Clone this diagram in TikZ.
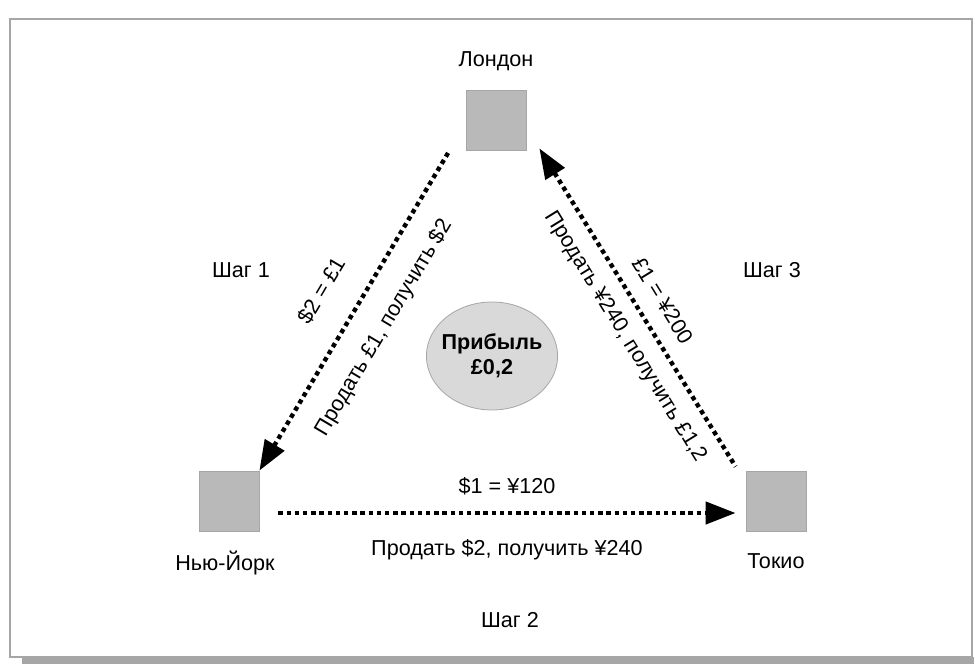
\documentclass[tikz,border=0pt]{standalone}
\usepackage{fontspec}
\setmainfont{Liberation Sans}
\usetikzlibrary{positioning,arrows.meta,shapes.geometric}

\begin{document}
\begin{tikzpicture}[x=0.5pt,y=-0.5pt,
  >={Triangle[length=15pt,width=11pt]},
  city/.style={draw=gray!70,fill=gray!55,minimum size=30pt,inner sep=0pt},
  trade/.style={line width=2.2pt,dash pattern=on 2.2pt off 1.9pt},
  lbl/.style={font=\fontsize{10.8}{12.5}\selectfont}]

\useasboundingbox (0,0) rectangle (974,664);
\draw[gray!70,line width=1pt] (10,19) rectangle (972,657);
\fill[gray!70] (22,657) rectangle (974,664);

\node[city] (london) at (496,120) {};
\node[city] (newyork) at (229,501) {};
\node[city] (tokyo) at (776,501) {};

\node[lbl,above=6pt of london] (londonlbl) {Лондон};
\node[lbl,below=6.5pt of newyork,xshift=-2pt] (newyorklbl) {Нью-Йорк};
\node[lbl,below=7.5pt of tokyo] (tokyolbl) {Токио};

\node[lbl] (step1) at (241,270) {Шаг 1};
\node[lbl] (step2) at (510,620) {Шаг 2};
\node[lbl] (step3) at (772,270) {Шаг 3};

\node[ellipse,draw=gray!70,fill=gray!30,minimum width=65pt,minimum height=54pt,inner sep=-2pt,
  align=center,font=\fontsize{10.8}{12.5}\selectfont\bfseries] (profit) at (492,356) {Прибыль\\£0,2};

\draw[trade,<-] (newyork.north east) -- ([xshift=-8pt]london.south west)
  node[lbl,midway,sloped,above=10.5pt] {\$2 = £1}
  node[lbl,midway,sloped,below=7.5pt] {Продать £1, получить \$2};

\draw[trade,->] ([xshift=9.5pt,yshift=-6pt]newyork.east) -- ([xshift=-5pt,yshift=-6pt]tokyo.west)
  node[lbl,midway,above=4.5pt] {\$1 = ¥120}
  node[lbl,midway,below=9pt] {Продать \$2, получить ¥240};

\draw[trade,<-] ([xshift=6.5pt,yshift=1pt]london.south east) -- ([xshift=-5pt,yshift=2pt]tokyo.north west)
  node[lbl,pos=0.52,sloped,above=4.5pt] {£1 = ¥200}
  node[lbl,pos=0.55,sloped,below=3.5pt] {Продать ¥240, получить £1,2};

\end{tikzpicture}
\end{document}
